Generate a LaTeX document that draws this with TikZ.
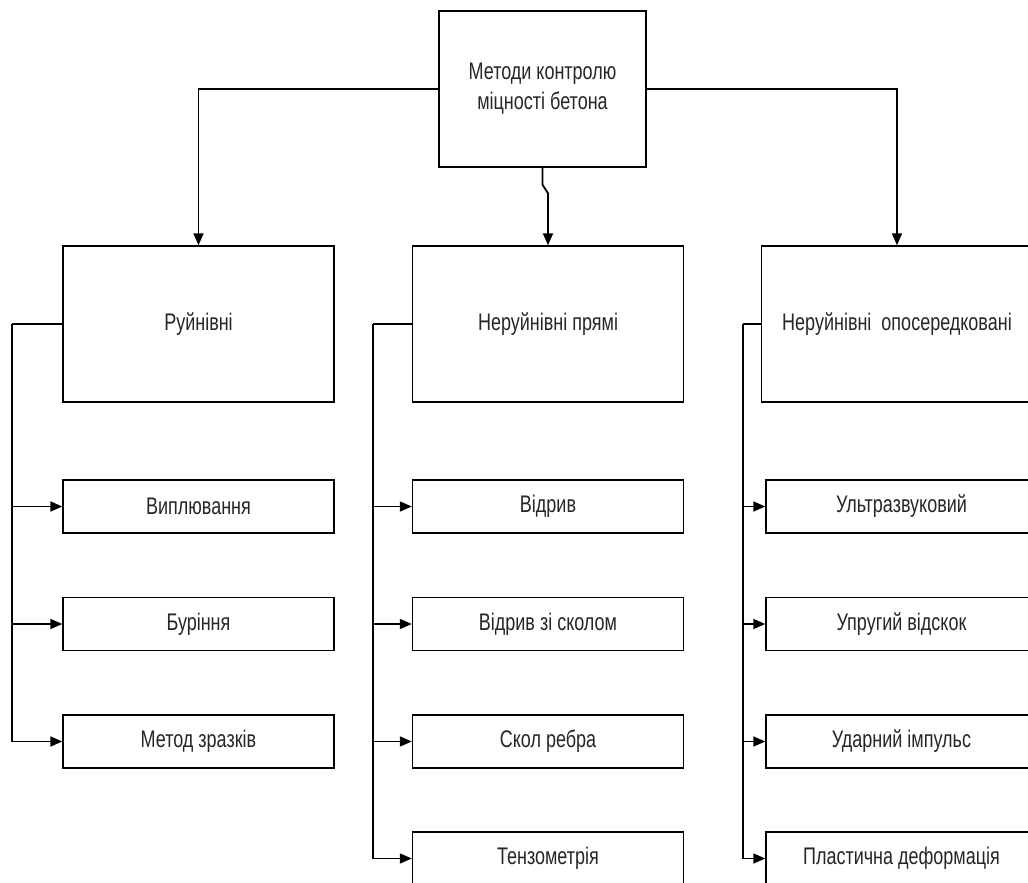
\documentclass[tikz,border=0pt]{standalone}
\usepackage{fontspec}
\setmainfont{Liberation Sans}[FakeStretch=0.75]
\usetikzlibrary{arrows.meta,calc}
\begin{document}
\begin{tikzpicture}[x=1pt,y=-1pt,
  box/.style={draw=black,line width=1.4pt,fill=white,inner sep=0pt,
    font=\fontsize{24}{30}\selectfont,text=black!85,align=center},
  topbox/.style={box,minimum width=207pt,minimum height=156pt},
  groupbox/.style={box,minimum width=271pt,minimum height=156pt},
  leafbox/.style={box,minimum width=271pt,minimum height=53pt},
  link/.style={line width=1.8pt,draw=black},
  arr/.style={link,-{Triangle[length=12pt,width=10pt]}}]
\useasboundingbox (0,0) rectangle (1028,883);
\clip (0,0) rectangle (1028,883);

% root
\node[topbox] (top) at (542.5,89) {Методи контролю\\міцності бетона};

% groups
\node[groupbox] (g1) at (198.5,324) {Руйнівні};
\node[groupbox] (g2) at (548,324) {Неруйнівні прямі};
\node[groupbox] (g3) at (897,324) {Неруйнівні\ \ опосередковані};

% destructive methods
\node[leafbox] (a1) at (198.5,506.5) {Виплювання};
\node[leafbox] (a2) at (198.5,624) {Буріння};
\node[leafbox] (a3) at (198.5,741.5) {Метод\ зразків};

% direct non-destructive methods
\node[leafbox] (b1) at (548,506.5) {Відрив};
\node[leafbox] (b2) at (548,624) {Відрив\ зі\ сколом};
\node[leafbox] (b3) at (548,741.5) {Скол ребра};
\node[leafbox] (b4) at (548,858.5) {Тензометрія};

% indirect non-destructive methods
\node[leafbox] (c1) at (901.5,506.5) {Ультразвуковий};
\node[leafbox] (c2) at (901.5,624) {Упругий відскок};
\node[leafbox] (c3) at (901.5,741.5) {Ударний імпульс};
\node[leafbox] (c4) at (901.5,858.5) {Пластична деформація};

% root to groups
\draw[arr] (top.west) -| (g1.north);
\draw[arr] (top.east) -| (g3.north);
\draw[arr] (top.south) -- ($(top.south)+(0,17)$) -- ($(g2.north)+(0,-52)$) -- (g2.north);

% group buses
\coordinate (busa) at (12,324);
\coordinate (busb) at (373,324);
\coordinate (busc) at (743,324);
\draw[link] (g1.west) -- (busa);
\draw[link] (g2.west) -- (busb);
\draw[link] (g3.west) -- (busc);
\foreach \n in {a1,a2,a3} \draw[arr] (busa) |- (\n.west);
\foreach \n in {b1,b2,b3,b4} \draw[arr] (busb) |- (\n.west);
\foreach \n in {c1,c2,c3,c4} \draw[arr] (busc) |- (\n.west);
\end{tikzpicture}
\end{document}
